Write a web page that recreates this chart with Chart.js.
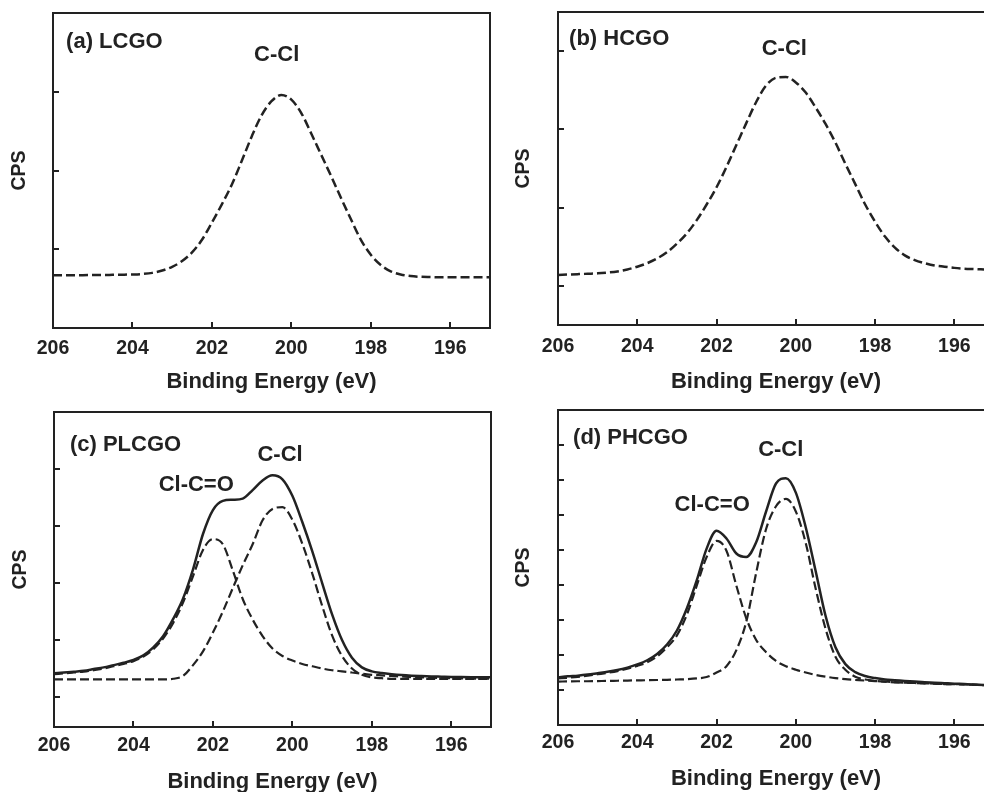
<!DOCTYPE html>
<html>
<head>
<meta charset="utf-8">
<script src="https://cdn.jsdelivr.net/npm/chart.js@4.4.0/dist/chart.umd.min.js"></script>
<style>
  html, body { margin: 0; padding: 0; background: #fff; overflow: hidden; width: 984px; height: 792px; }
  .panel { position: absolute; }
</style>
</head>
<body>
<div class="panel" style="left:0;top:0"><canvas id="chartA" width="495" height="395"></canvas></div>
<div class="panel" style="left:505px;top:0"><canvas id="chartB" width="500" height="395"></canvas></div>
<div class="panel" style="left:0;top:395px"><canvas id="chartC" width="495" height="400"></canvas></div>
<div class="panel" style="left:505px;top:395px"><canvas id="chartD" width="500" height="397"></canvas></div>
<script>
// binding energy grid (eV), shared by all panels
const energy = [
  206, 205.75, 205.5, 205.25, 205, 204.75, 204.5, 204.25, 204,
  203.75, 203.5, 203.25, 203, 202.75, 202.5, 202.25, 202,
  201.75, 201.5, 201.25, 201, 200.75, 200.5, 200.25, 200,
  199.75, 199.5, 199.25, 199, 198.75, 198.5, 198.25, 198,
  197.75, 197.5, 197.25, 197, 196.75, 196.5, 196.25, 196,
  195.75, 195.5, 195.25, 195
];
const xTicks = [206, 204, 202, 200, 198, 196];

// (a) LCGO
const lcgoCCl = [
  0.67, 0.67, 0.67, 0.671, 0.672, 0.673, 0.675, 0.677, 0.68,
  0.686, 0.70, 0.73, 0.777, 0.85, 0.96, 1.12, 1.34,
  1.57, 1.82, 2.12, 2.43, 2.70, 2.88, 2.96, 2.90,
  2.73, 2.47, 2.20, 1.93, 1.65, 1.38, 1.12, 0.93,
  0.80, 0.72, 0.68, 0.66, 0.65, 0.647, 0.645, 0.645,
  0.645, 0.645, 0.645, 0.645
];
const yTicksA = [1, 2, 3];

// (b) HCGO
const hcgoCCl = [
  0.64, 0.645, 0.65, 0.655, 0.66, 0.67, 0.685, 0.71, 0.745,
  0.79, 0.85, 0.93, 1.04, 1.17, 1.34, 1.54, 1.76,
  2.02, 2.30, 2.58, 2.85, 3.06, 3.16, 3.17, 3.10,
  2.97, 2.78, 2.57, 2.33, 2.06, 1.80, 1.54, 1.32,
  1.13, 0.99, 0.89, 0.83, 0.79, 0.76, 0.745, 0.73,
  0.72, 0.715, 0.71, 0.705
];
const yTicksB = [0.5, 1.5, 2.5, 3.5];

// (c) PLCGO
const plcgoEnvelope = [
  1.415, 1.43, 1.445, 1.46, 1.49, 1.52, 1.56, 1.60, 1.65,
  1.73, 1.87, 2.07, 2.37, 2.73, 3.24, 3.86, 4.28,
  4.44, 4.46, 4.48, 4.63, 4.80, 4.89, 4.82, 4.53,
  4.07, 3.56, 3.00, 2.45, 2.00, 1.69, 1.52, 1.45,
  1.42, 1.40, 1.385, 1.375, 1.368, 1.362, 1.357, 1.352,
  1.35, 1.348, 1.346, 1.345
];
const plcgoClCO = [
  1.40, 1.415, 1.43, 1.445, 1.47, 1.50, 1.54, 1.58, 1.63,
  1.71, 1.84, 2.03, 2.30, 2.66, 3.12, 3.58, 3.77,
  3.68, 3.22, 2.72, 2.36, 2.07, 1.85, 1.72, 1.64,
  1.58, 1.54, 1.50, 1.47, 1.45, 1.43, 1.41, 1.39,
  1.38, 1.37, 1.36, 1.35, 1.345, 1.34, 1.335, 1.33,
  1.327, 1.325, 1.322, 1.32
];
const plcgoCCl = [
  1.31, 1.31, 1.31, 1.31, 1.31, 1.31, 1.31, 1.31, 1.31,
  1.31, 1.31, 1.31, 1.32, 1.37, 1.56, 1.80, 2.13,
  2.50, 2.91, 3.31, 3.68, 4.10, 4.30, 4.33, 4.11,
  3.69, 3.17, 2.60, 2.08, 1.72, 1.50, 1.39, 1.345,
  1.33, 1.32, 1.32, 1.32, 1.32, 1.32, 1.32, 1.32,
  1.32, 1.32, 1.32, 1.32
];
const yTicksC = [1, 2, 3, 4, 5];

// (d) PHCGO
const phcgoEnvelope = [
  1.36, 1.39, 1.41, 1.44, 1.48, 1.52, 1.57, 1.64, 1.73,
  1.85, 2.03, 2.30, 2.70, 3.33, 4.13, 5.04, 5.55,
  5.33, 4.90, 4.80, 5.22, 6.10, 6.90, 7.05, 6.64,
  5.65, 4.40, 3.12, 2.22, 1.74, 1.51, 1.40, 1.34,
  1.30, 1.28, 1.26, 1.24, 1.22, 1.21, 1.195, 1.18,
  1.17, 1.155, 1.14, 1.13
];
const phcgoClCO = [
  1.33, 1.35, 1.375, 1.41, 1.45, 1.49, 1.54, 1.61, 1.69,
  1.79, 1.96, 2.22, 2.56, 3.15, 3.98, 4.80, 5.26,
  4.98, 3.98, 3.05, 2.43, 2.08, 1.83, 1.68, 1.58,
  1.50, 1.43, 1.38, 1.34, 1.31, 1.29, 1.27, 1.255,
  1.24, 1.225, 1.21, 1.20, 1.19, 1.18, 1.17, 1.165,
  1.16, 1.15, 1.14, 1.13
];
const phcgoCCl = [
  1.24, 1.245, 1.25, 1.25, 1.255, 1.26, 1.265, 1.27, 1.275,
  1.28, 1.285, 1.29, 1.30, 1.31, 1.33, 1.37, 1.50,
  1.68, 2.14, 2.95, 4.35, 5.60, 6.25, 6.46, 6.10,
  5.20, 3.90, 2.75, 1.95, 1.58, 1.38, 1.30, 1.26,
  1.235, 1.22, 1.21, 1.20, 1.19, 1.18, 1.17, 1.165,
  1.16, 1.15, 1.14, 1.13
];
const yTicksD = [1, 2, 3, 4, 5, 6, 7, 8];

const FONT = '"Liberation Sans", Arial, Helvetica, sans-serif';
const INK = '#222';

// box frame, inward tick marks and the in-plot labels
const frameAndLabels = {
  id: 'frameAndLabels',
  afterDatasetsDraw(chart, args, opts) {
    const { ctx, chartArea: a, scales } = chart;
    ctx.save();
    ctx.strokeStyle = INK;
    ctx.lineWidth = 2;
    ctx.beginPath();
    scales.x.ticks.forEach(t => {
      const px = Math.round(scales.x.getPixelForValue(t.value));
      ctx.moveTo(px, a.bottom);
      ctx.lineTo(px, a.bottom - 6);
    });
    scales.y.ticks.forEach(t => {
      const py = Math.round(scales.y.getPixelForValue(t.value));
      ctx.moveTo(a.left, py);
      ctx.lineTo(a.left + 6, py);
    });
    ctx.stroke();
    ctx.strokeRect(a.left, a.top, a.right - a.left, a.bottom - a.top);

    ctx.fillStyle = INK;
    ctx.font = 'bold 22px ' + FONT;
    ctx.textBaseline = 'middle';
    (opts.labels || []).forEach(l => {
      ctx.textAlign = l.align || 'center';
      ctx.fillText(l.text, scales.x.getPixelForValue(l.x), scales.y.getPixelForValue(l.y));
    });
    ctx.restore();
  }
};

function line(values, dashed, width) {
  return {
    data: energy.map((e, i) => ({ x: e, y: values[i] })),
    borderColor: INK,
    borderWidth: width,
    borderDash: dashed ? [9, 4] : [],
    pointRadius: 0,
    fill: false,
    cubicInterpolationMode: 'monotone',
  };
}

function makePanel(id, p) {
  return new Chart(document.getElementById(id), {
    type: 'line',
    data: { datasets: p.datasets },
    options: {
      responsive: false,
      animation: false,
      events: [],
      layout: { padding: { top: p.padTop, right: p.padRight, left: 0, bottom: 0 } },
      plugins: {
        legend: { display: false },
        tooltip: { enabled: false },
        frameAndLabels: { labels: p.labels },
      },
      scales: {
        x: {
          type: 'linear',
          reverse: true,
          min: 195,
          max: 206,
          afterBuildTicks: s => { s.ticks = xTicks.map(v => ({ value: v })); },
          afterFit: s => { s.height = p.xAxisHeight; },
          grid: { display: false, drawTicks: false },
          border: { display: false },
          ticks: {
            padding: p.tickPad,
            color: INK,
            autoSkip: false,
            maxRotation: 0,
            font: { family: FONT, size: 19.5, weight: 'bold' },
            callback: v => String(v),
          },
          title: {
            display: true,
            text: 'Binding Energy (eV)',
            color: INK,
            font: { family: FONT, size: 22, weight: 'bold' },
            padding: { top: 0, bottom: 0 },
          },
        },
        y: {
          type: 'linear',
          min: p.yMin,
          max: p.yMax,
          afterBuildTicks: s => { s.ticks = p.yTicks.map(v => ({ value: v })); },
          afterFit: s => { s.width = p.yAxisWidth; },
          grid: { display: false, drawTicks: false },
          border: { display: false },
          ticks: { display: false },
          title: {
            display: true,
            text: 'CPS',
            color: INK,
            font: { family: FONT, size: 19.5, weight: 'bold' },
            padding: { top: p.cpsPad, bottom: 0 },
          },
        },
      },
    },
    plugins: [frameAndLabels],
  });
}

makePanel('chartA', {
  datasets: [line(lcgoCCl, true, 2.5)],
  padTop: 13, padRight: 5, yAxisWidth: 53, xAxisHeight: 67,
  yMin: 0, yMax: 4, yTicks: yTicksA, tickPad: 9, cpsPad: 8.3,
  labels: [
    { text: '(a) LCGO', x: 205.67, y: 3.63, align: 'left' },
    { text: 'C-Cl', x: 200.37, y: 3.47 },
  ],
});

makePanel('chartB', {
  datasets: [line(hcgoCCl, true, 2.5)],
  padTop: 12, padRight: 11, yAxisWidth: 53, xAxisHeight: 70,
  yMin: 0, yMax: 4, yTicks: yTicksB, tickPad: 10.3, cpsPad: 6.8,
  labels: [
    { text: '(b) HCGO', x: 205.72, y: 3.65, align: 'left' },
    { text: 'C-Cl', x: 200.29, y: 3.53 },
  ],
});

makePanel('chartC', {
  datasets: [
    line(plcgoEnvelope, false, 2.5),
    line(plcgoClCO, true, 2.2),
    line(plcgoCCl, true, 2.2),
  ],
  padTop: 17, padRight: 4, yAxisWidth: 54, xAxisHeight: 68,
  yMin: 0.474, yMax: 6.0, yTicks: yTicksC, tickPad: 6.8, cpsPad: 8.8,
  labels: [
    { text: '(c) PLCGO', x: 205.6, y: 5.42, align: 'left' },
    { text: 'C-Cl', x: 200.31, y: 5.25 },
    { text: 'Cl-C=O', x: 202.42, y: 4.72 },
  ],
});

makePanel('chartD', {
  datasets: [
    line(phcgoEnvelope, false, 2.5),
    line(phcgoClCO, true, 2.2),
    line(phcgoCCl, true, 2.2),
  ],
  padTop: 15, padRight: 11, yAxisWidth: 53, xAxisHeight: 67,
  yMin: 0, yMax: 9, yTicks: yTicksD, tickPad: 5.8, cpsPad: 7.3,
  labels: [
    { text: '(d) PHCGO', x: 205.62, y: 8.19, align: 'left' },
    { text: 'C-Cl', x: 200.38, y: 7.87 },
    { text: 'Cl-C=O', x: 202.11, y: 6.30 },
  ],
});
</script>
</body>
</html>
